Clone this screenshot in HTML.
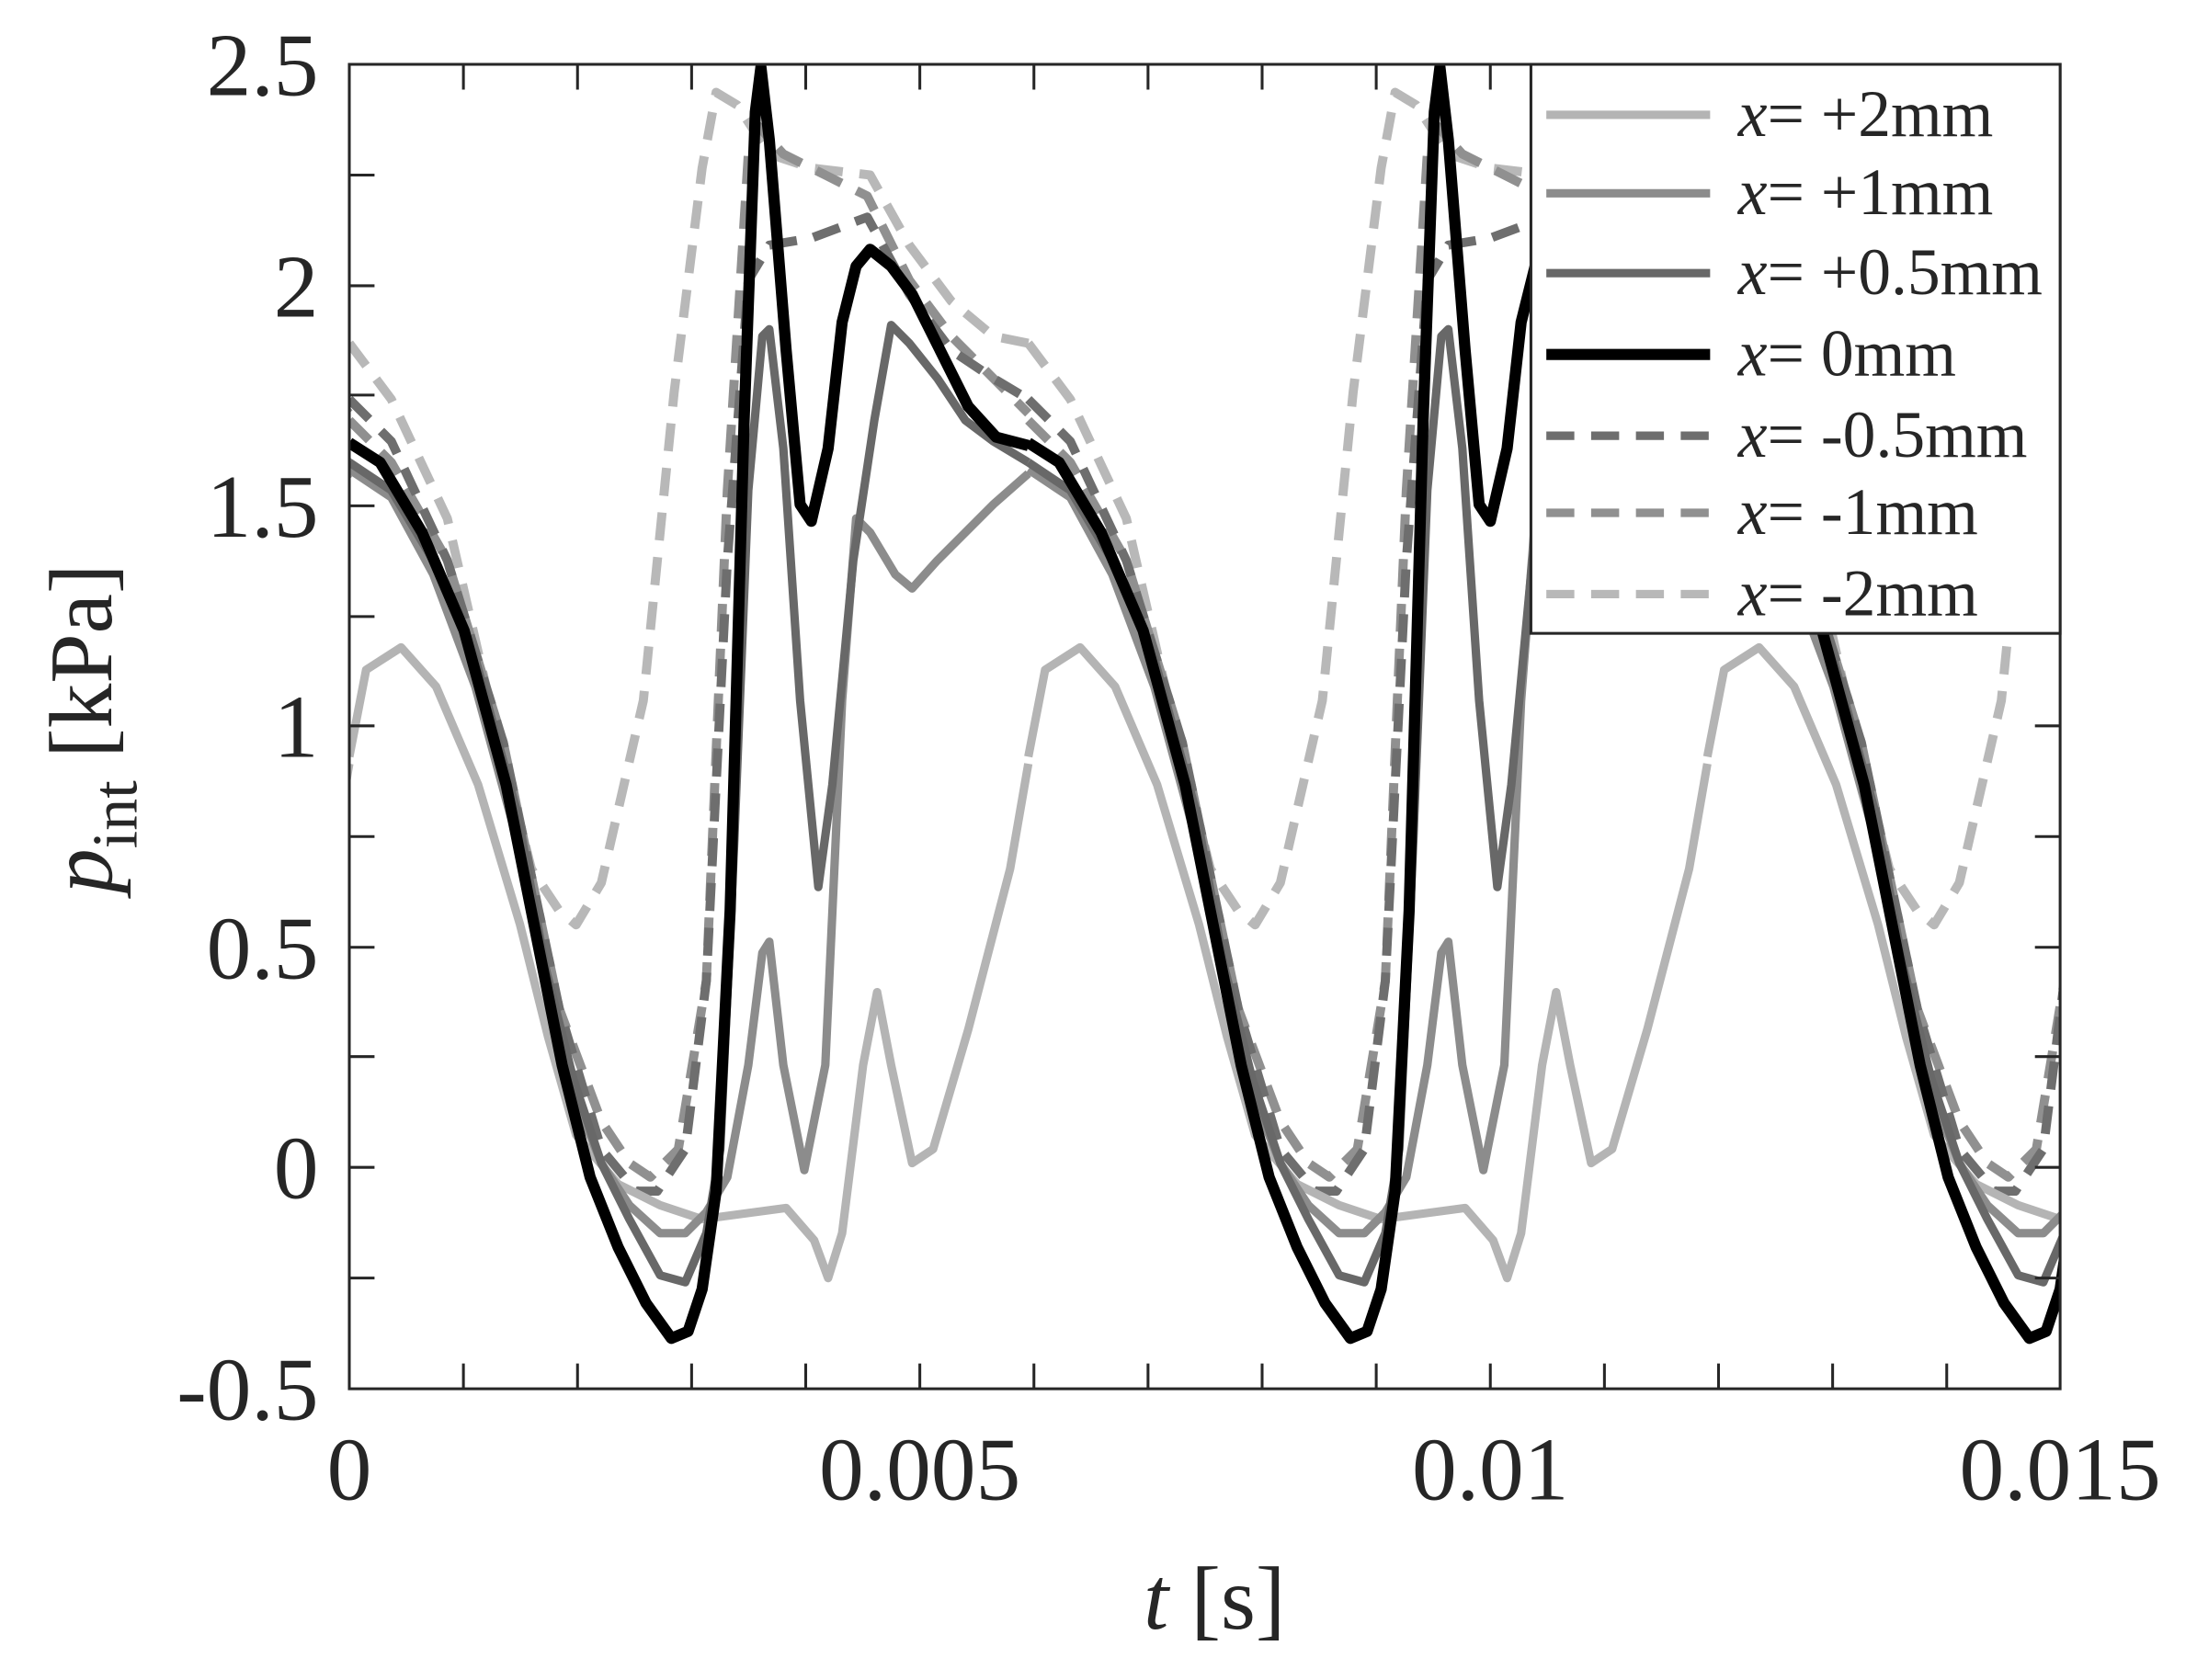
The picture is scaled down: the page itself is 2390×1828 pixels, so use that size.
<!DOCTYPE html>
<html><head><meta charset="utf-8"><style>
html,body{margin:0;padding:0;background:#fff}
svg{display:block}
text{font-family:"Liberation Serif",serif;fill:#262626}
</style></head><body>
<svg width="2390" height="1828" viewBox="0 0 2390 1828" xmlns="http://www.w3.org/2000/svg">
<defs>
<clipPath id="c"><rect x="248" y="46" width="1222" height="945"/></clipPath>
<path id="p2" d="M248,540 L260,478 L285,462 L310,490 L340,560 L370,660 L390,740 L410,810 L440,845 L470,860 L500,870 L530,866 L560,862 L580,885 L590,912 L600,880 L615,760 L625,708 L635,760 L650,830 L665,820 L690,735 L720,620 L733,545"/>
<path id="p1" d="M248,335 L278,355 L308,410 L338,490 L368,600 L388,700 L408,780 L428,830 L448,860 L470,880 L488,880 L503,865 L518,840 L533,760 L543,680 L548,672 L558,760 L573,835 L588,760 L600,500 L610,370 L620,380 L638,410 L650,420 L668,400 L688,380 L708,360 L733,338"/>
<path id="p05" d="M248,330 L278,350 L308,400 L338,470 L368,580 L388,690 L408,770 L428,830 L448,870 L470,910 L488,915 L503,880 L513,820 L523,600 L533,350 L543,240 L548,235 L558,320 L570,500 L583,633 L593,560 L608,400 L623,300 L635,232 L648,245 L668,270 L688,300 L708,315 L733,330"/>
<path id="p0" d="M248,316 L270,330 L300,380 L330,450 L360,560 L380,660 L400,760 L420,840 L440,890 L460,930 L478,955 L490,950 L500,920 L510,850 L520,650 L530,300 L538,80 L542,48 L548,100 L560,250 L570,360 L578,372 L590,320 L600,230 L610,190 L620,178 L635,190 L650,210 L670,250 L690,290 L710,312 L733,318"/>
<path id="m05" d="M248,285 L278,315 L318,400 L358,530 L398,720 L428,820 L453,850 L468,850 L488,820 L503,700 L518,400 L533,200 L548,175 L578,170 L618,155 L648,210 L678,250 L708,270 L733,285"/>
<path id="m1" d="M248,300 L278,330 L318,400 L358,530 L398,720 L428,800 L448,830 L463,840 L483,820 L503,700 L518,350 L533,110 L540,90 L558,110 L588,125 L618,140 L648,200 L678,240 L708,270 L733,295"/>
<path id="m2" d="M248,245 L278,285 L318,370 L348,500 L378,620 L398,650 L410,660 L428,630 L458,500 L480,280 L500,120 L510,66 L525,75 L548,110 L578,120 L620,125 L648,175 L678,215 L708,240 L733,245"/>
</defs>
<g transform="matrix(1.523,0,0,1.525,2.3,-0.15)">
<g clip-path="url(#c)" fill="none" stroke-linejoin="round">
<g stroke="#b8b8b8" stroke-width="6.5" stroke-dasharray="20 12"><use href="#m2" x="-485"/><use href="#m2"/><use href="#m2" x="485"/><use href="#m2" x="970"/></g>
<g stroke="#909090" stroke-width="6.5" stroke-dasharray="20 12"><use href="#m1" x="-485"/><use href="#m1"/><use href="#m1" x="485"/><use href="#m1" x="970"/></g>
<g stroke="#6e6e6e" stroke-width="6.5" stroke-dasharray="20 12"><use href="#m05" x="-485"/><use href="#m05"/><use href="#m05" x="485"/><use href="#m05" x="970"/></g>
<g stroke="#b4b4b4" stroke-width="6"><use href="#p2" x="-485"/><use href="#p2"/><use href="#p2" x="485"/><use href="#p2" x="970"/></g>
<g stroke="#8c8c8c" stroke-width="6"><use href="#p1" x="-485"/><use href="#p1"/><use href="#p1" x="485"/><use href="#p1" x="970"/></g>
<g stroke="#686868" stroke-width="6"><use href="#p05" x="-485"/><use href="#p05"/><use href="#p05" x="485"/><use href="#p05" x="970"/></g>
<g stroke="#000" stroke-width="8"><use href="#p0" x="-485"/><use href="#p0"/><use href="#p0" x="485"/><use href="#p0" x="970"/></g>
</g>
<rect x="248" y="46" width="1222" height="945" fill="none" stroke="#262626" stroke-width="2"/>
<g stroke="#262626" stroke-width="2">
<path d="M329.5,991v-18M411,991v-18M492.5,991v-18M574,991v-18M655.5,991v-18M737,991v-18M818.5,991v-18M900,991v-18M981.5,991v-18M1063,991v-18M1144.5,991v-18M1226,991v-18M1307.5,991v-18M1389,991v-18"/>
<path d="M329.5,46v18M411,46v18M492.5,46v18M574,46v18M655.5,46v18M737,46v18M818.5,46v18M900,46v18M981.5,46v18M1063,46v18"/>
<path d="M248,125h18M248,204h18M248,282h18M248,361h18M248,440h18M248,518h18M248,597h18M248,676h18M248,754h18M248,833h18M248,912h18"/>
<path d="M1470,518h-18M1470,597h-18M1470,676h-18M1470,754h-18M1470,833h-18M1470,912h-18"/>
</g>
<g font-size="64" text-anchor="end">
<text x="226" y="68">2.5</text><text x="226" y="226">2</text><text x="226" y="383">1.5</text>
<text x="226" y="540">1</text><text x="226" y="698">0.5</text><text x="226" y="855">0</text><text x="226" y="1013">-0.5</text>
</g>
<g font-size="64" text-anchor="middle">
<text x="248" y="1070">0</text><text x="655.5" y="1070">0.005</text><text x="1063" y="1070">0.01</text><text x="1470" y="1070">0.015</text>
<text x="866" y="1162"><tspan font-style="italic">t</tspan> [s]</text>
</g>
<text transform="translate(78,520) rotate(-90)" font-size="64" text-anchor="middle"><tspan font-style="italic">p</tspan><tspan font-size="46" dy="18">int</tspan><tspan dy="-18"> [kPa]</tspan></text>
<rect x="1092" y="46" width="378" height="406" fill="#fff" stroke="#262626" stroke-width="2"/>
<g fill="none" stroke-width="6">
<path d="M1103,82h117" stroke="#b4b4b4"/>
<path d="M1103,138h117" stroke="#8c8c8c"/>
<path d="M1103,195h117" stroke="#686868"/>
<path d="M1103,253h117" stroke="#000" stroke-width="8"/>
<path d="M1103,311h117" stroke="#6e6e6e" stroke-dasharray="20 12"/>
<path d="M1103,366h117" stroke="#909090" stroke-dasharray="20 12"/>
<path d="M1103,424h117" stroke="#b8b8b8" stroke-dasharray="20 12"/>
</g>
<g font-size="47">
<text x="1240" y="97"><tspan font-style="italic">x</tspan>= +2mm</text>
<text x="1240" y="153"><tspan font-style="italic">x</tspan>= +1mm</text>
<text x="1240" y="210"><tspan font-style="italic">x</tspan>= +0.5mm</text>
<text x="1240" y="268"><tspan font-style="italic">x</tspan>= 0mm</text>
<text x="1240" y="326"><tspan font-style="italic">x</tspan>= -0.5mm</text>
<text x="1240" y="381"><tspan font-style="italic">x</tspan>= -1mm</text>
<text x="1240" y="439"><tspan font-style="italic">x</tspan>= -2mm</text>
</g>
</g>
</svg>
</body></html>
